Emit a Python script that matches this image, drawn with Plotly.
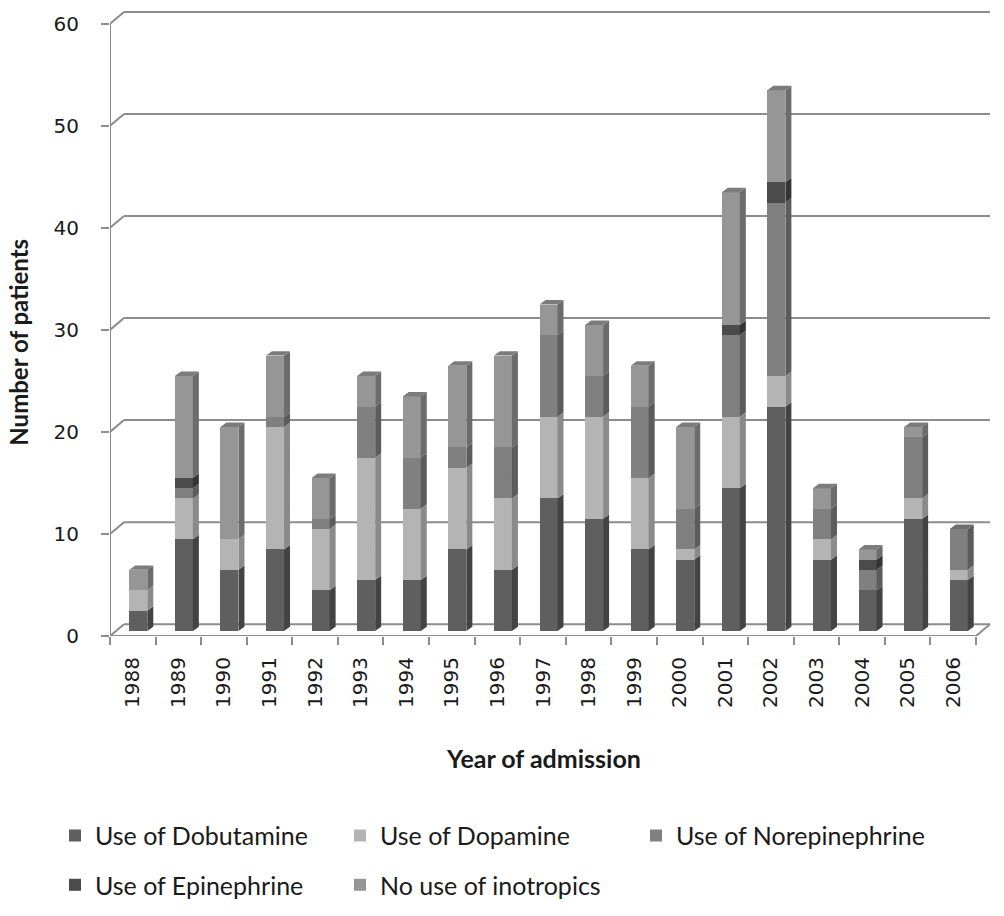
import plotly.graph_objects as go

# ---------------- data ----------------
years = ["1988", "1989", "1990", "1991", "1992", "1993", "1994", "1995", "1996", "1997",
         "1998", "1999", "2000", "2001", "2002", "2003", "2004", "2005", "2006"]
dobutamine     = [2, 9, 6, 8, 4, 5, 5, 8, 6, 13, 11, 8, 7, 14, 22, 7, 4, 11, 5]
dopamine       = [2, 4, 3, 12, 6, 12, 7, 8, 7, 8, 10, 7, 1, 7, 3, 2, 0, 2, 1]
norepinephrine = [0, 1, 0, 1, 1, 5, 5, 2, 5, 8, 4, 7, 4, 8, 17, 3, 2, 6, 4]
epinephrine    = [0, 1, 0, 0, 0, 0, 0, 0, 0, 0, 0, 0, 0, 1, 2, 0, 1, 0, 0]
no_inotropics  = [2, 10, 11, 6, 4, 3, 6, 8, 9, 3, 5, 4, 8, 13, 9, 2, 1, 1, 0]
y_ticks = [0, 10, 20, 30, 40, 50, 60]

series_names = ["Use of Dobutamine", "Use of Dopamine", "Use of Norepinephrine",
                "Use of Epinephrine", "No use of inotropics"]
series = [dobutamine, dopamine, norepinephrine, epinephrine, no_inotropics]

# ---------------- styles ----------------
front_colors = ["#5f5f5f", "#b4b4b4", "#808080", "#4b4b4b", "#969696"]
side_colors  = ["#434343", "#8a8a8a", "#5c5c5c", "#343434", "#6c6c6c"]
top_colors   = ["#525252", "#9c9c9c", "#6e6e6e", "#404040", "#7c7c7c"]
legend_ids   = ["legend", "legend", "legend3", "legend2", "legend2"]
GRID = "#8c8c8c"
TICK_FONT = dict(family="DejaVu Sans", size=20, color="#1a1a1a")
TITLE_FONT = dict(family="Lato", size=24, color="#1a1a1a")
LEG_FONT = dict(family="Lato", size=25, color="#1a1a1a")

W, H = 1004, 916
PLOT_L, PLOT_T, PLOT_R, PLOT_B = 110, 8, 994, 646   # page pixels
Y60 = 24                                             # page pixel of the 60 tick
ML, MT = PLOT_L, PLOT_T
PW, PH = PLOT_R - PLOT_L, PLOT_B - PLOT_T
MR, MB = W - ML - PW, H - MT - PH

PX_X = 866 / 19                  # px per category
PX_Y = (PLOT_B - Y60) / 60       # px per unit
BAR_W = 18 / PX_X
BAR_OFF = -3.5 / PX_X
DX, DY = 6 / PX_X, 4.5 / PX_Y           # bar depth
WDX, WDY = 14 / PX_X, 12 / PX_Y         # wall depth
BAR_SHIFT_Y = 5 / PX_Y


def px_x(p):
    return (p - PLOT_L) / PW


def px_y(p):
    return (PLOT_B - p) / PH


n = len(years)
xs = list(range(n))

fig = go.Figure()

# front faces
for name, vals, fc, lg in zip(series_names, series, front_colors, legend_ids):
    fig.add_trace(go.Bar(x=xs, y=vals, name=name, width=BAR_W, offset=BAR_OFF,
                         marker=dict(color=fc, line=dict(width=0)),
                         legend=lg, yaxis="y2", hoverinfo="y+name"))

# side faces
base = [0] * n
for k, vals in enumerate(series):
    sx, sy = [], []
    for i in range(n):
        if vals[i] > 0:
            r = i + BAR_OFF + BAR_W
            b, t = base[i], base[i] + vals[i]
            sx += [r, r + DX, r + DX, r, r, None]
            sy += [b, b + DY, t + DY, t, b, None]
    fig.add_trace(go.Scatter(x=sx, y=sy, mode="lines", fill="toself",
                             fillcolor=side_colors[k], line=dict(width=0, color=side_colors[k]),
                             yaxis="y2", showlegend=False, hoverinfo="skip"))
    base = [base[i] + vals[i] for i in range(n)]

# top faces
totals = base
for i in range(n):
    top_k = max(k for k in range(len(series)) if series[k][i] > 0)
    l = i + BAR_OFF
    r = l + BAR_W
    T = totals[i]
    fig.add_trace(go.Scatter(x=[l, l + DX, r + DX, r, l], y=[T, T + DY, T + DY, T, T],
                             mode="lines", fill="toself", fillcolor=top_colors[top_k],
                             line=dict(width=0, color=top_colors[top_k]),
                             yaxis="y2", showlegend=False, hoverinfo="skip"))

# walls / gridlines
shapes = []
x_lo, x_hi = -0.5, n - 0.5
line_style = dict(color=GRID, width=2)
shapes.append(dict(type="line", xref="x", yref="y", x0=x_lo, x1=x_lo, y0=0, y1=y_ticks[-1],
                   line=line_style, layer="below"))
shapes.append(dict(type="line", xref="x", yref="y", x0=x_lo, x1=x_hi, y0=0, y1=0,
                   line=line_style, layer="below"))
shapes.append(dict(type="line", xref="x", yref="y", x0=x_hi, x1=x_hi + WDX, y0=0, y1=WDY,
                   line=line_style, layer="below"))
for v in y_ticks:
    shapes.append(dict(type="line", xref="x", yref="y", x0=x_lo + WDX, x1=x_hi + WDX,
                       y0=v + WDY, y1=v + WDY, line=line_style, layer="below"))
    shapes.append(dict(type="line", xref="x", yref="y", x0=x_lo, x1=x_lo + WDX,
                       y0=v, y1=v + WDY, line=line_style, layer="below"))

y_top = PH / PX_Y
leg_common = dict(orientation="h", xanchor="left", yanchor="middle", traceorder="normal",
                  font=LEG_FONT, itemwidth=30)
fig.update_layout(
    width=W, height=H,
    margin=dict(l=ML, r=MR, t=MT, b=MB, pad=0),
    plot_bgcolor="white", paper_bgcolor="white",
    barmode="stack",
    shapes=shapes,
    xaxis=dict(range=[-0.5, -0.5 + PW / PX_X], tickmode="array", tickvals=xs, ticktext=years,
               tickangle=-90, ticks="outside", ticklen=8, tickcolor="rgba(0,0,0,0)",
               showgrid=False, zeroline=False, showline=False, tickfont=TICK_FONT,
               ticklabelstandoff=4,
               minor=dict(tickmode="array", tickvals=[i - 0.5 for i in range(n + 1)],
                          ticks="outside", ticklen=8, tickwidth=2, tickcolor=GRID, showgrid=False)),
    yaxis=dict(range=[0, y_top], tickmode="array", tickvals=y_ticks, ticks="outside",
               ticklen=8, tickwidth=2, tickcolor=GRID, showgrid=False, zeroline=False,
               showline=False, tickfont=TICK_FONT, ticklabelstandoff=18),
    yaxis2=dict(range=[-BAR_SHIFT_Y, y_top - BAR_SHIFT_Y], overlaying="y", visible=False),
    legend=dict(x=px_x(55), y=px_y(849), entrywidth=240, **leg_common),
    legend3=dict(x=px_x(636), y=px_y(849), **leg_common),
    legend2=dict(x=px_x(55), y=px_y(899), entrywidth=240, **leg_common),
    annotations=[
        dict(text="<b>Number of patients</b>", xref="paper", yref="paper",
             x=px_x(19), y=px_y(348), textangle=-90, showarrow=False,
             font=TITLE_FONT, xanchor="center", yanchor="middle"),
        dict(text="<b>Year of admission</b>", xref="paper", yref="paper",
             x=px_x(543), y=px_y(770), showarrow=False,
             font=dict(TITLE_FONT, size=25), xanchor="center", yanchor="middle"),
    ],
)

# remove the default page margin so figure pixels equal page pixels
fig.write_html("out.html", config={"displayModeBar": False},
               post_script="document.body.style.margin='0';document.body.style.overflow='hidden';")
